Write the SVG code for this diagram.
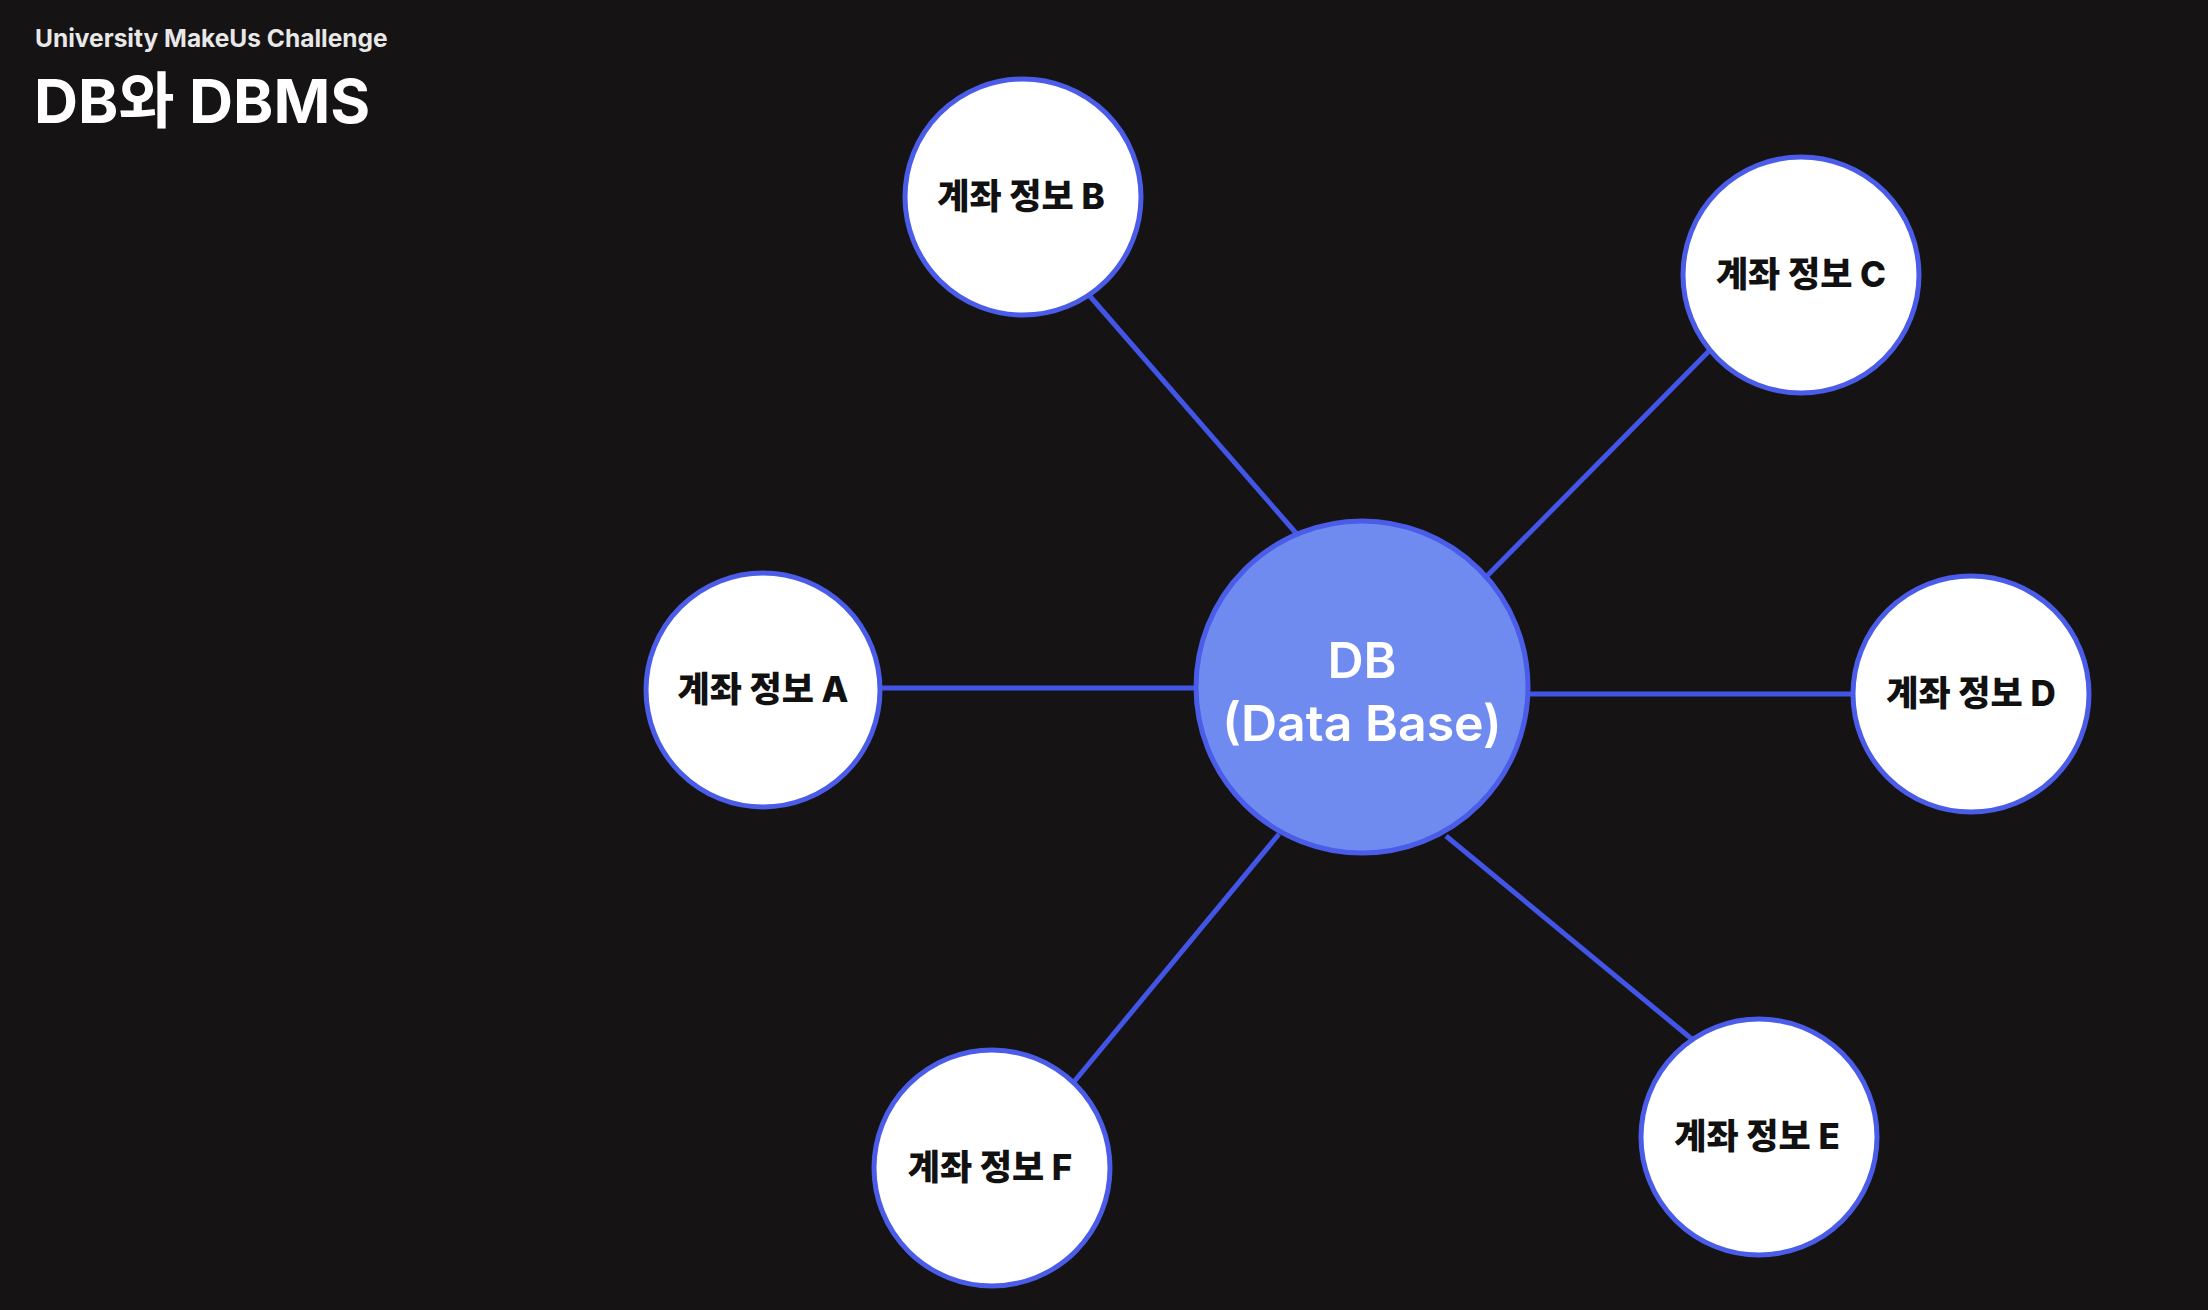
<svg xmlns="http://www.w3.org/2000/svg" width="2208" height="1310" viewBox="0 0 2208 1310">
<style>
.bg{fill:#151314}
.edge{stroke:#4255e6;stroke-width:5;fill:none}
.leaf{fill:#ffffff;stroke:#4a5ce8;stroke-width:5}
.hub{fill:#6f8bef;stroke:#4a5ce8;stroke-width:5}
.lbl{font-family:"Inter","Noto Sans CJK KR",sans-serif;font-weight:800;font-size:35px;fill:#111111;text-anchor:middle}
.hubtxt{font-family:"Inter","Noto Sans CJK KR",sans-serif;font-weight:600;font-size:50px;fill:#ffffff;text-anchor:middle}
.sub{font-family:"Inter","Noto Sans CJK KR",sans-serif;font-weight:700;font-size:24.5px;fill:#e8e8e8}
.title{font-family:"Inter","Noto Sans CJK KR",sans-serif;font-weight:700;font-size:61px;fill:#ffffff}
</style>
<rect class="bg" x="0" y="0" width="2208" height="1310"/>
<text class="sub" x="35" y="47">University MakeUs Challenge</text>
<text class="title" x="34" y="123">DB와 DBMS</text>
<g id="connectors">
<line class="edge" x1="1200" y1="688" x2="878" y2="688"/>
<line class="edge" x1="1302" y1="540" x2="1088" y2="294"/>
<line class="edge" x1="1483" y1="580" x2="1710" y2="350"/>
<line class="edge" x1="1526" y1="694" x2="1856" y2="694"/>
<line class="edge" x1="1446" y1="836" x2="1693" y2="1040"/>
<line class="edge" x1="1279" y1="834" x2="1073" y2="1083"/>
</g>
<g id="node-db">
<circle class="hub" cx="1362" cy="687" r="166"/>
<text class="hubtxt" x="1362" y="678">DB</text>
<text class="hubtxt" x="1362" y="741">(Data Base)</text>
</g>
<g id="node-a">
<circle class="leaf" cx="763" cy="690" r="117"/>
<text class="lbl" x="763" y="702">계좌 정보 A</text>
</g>
<g id="node-b">
<circle class="leaf" cx="1023" cy="197" r="118"/>
<text class="lbl" x="1021" y="209">계좌 정보 B</text>
</g>
<g id="node-c">
<circle class="leaf" cx="1801" cy="275" r="118"/>
<text class="lbl" x="1801" y="287">계좌 정보 C</text>
</g>
<g id="node-d">
<circle class="leaf" cx="1971" cy="694" r="118"/>
<text class="lbl" x="1971" y="706">계좌 정보 D</text>
</g>
<g id="node-e">
<circle class="leaf" cx="1759" cy="1137" r="118"/>
<text class="lbl" x="1757" y="1149">계좌 정보 E</text>
</g>
<g id="node-f">
<circle class="leaf" cx="992" cy="1168" r="118"/>
<text class="lbl" x="990" y="1180">계좌 정보 F</text>
</g>
</svg>
